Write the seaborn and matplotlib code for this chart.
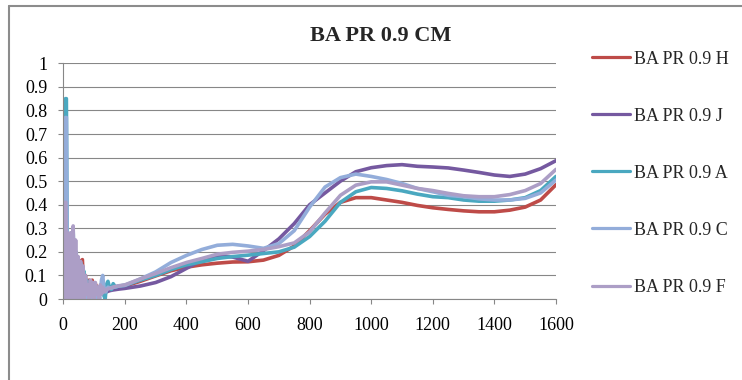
import numpy as np
import pandas as pd
import matplotlib
matplotlib.use("Agg")
import matplotlib.pyplot as plt
from matplotlib.lines import Line2D
from matplotlib.ticker import FuncFormatter, MultipleLocator
import seaborn as sns

# --- data ---
title = "BA PR 0.9 CM"
series_names = ["BA PR 0.9 H", "BA PR 0.9 J", "BA PR 0.9 A", "BA PR 0.9 C", "BA PR 0.9 F"]
series_colors = ["#BE4B48", "#7559A0", "#4AA8C0", "#93ADDA", "#AC9EC6"]

# smooth part of the curves (shared x)
x_smooth = [200, 250, 300, 350, 400, 450, 500, 550, 600, 650, 700, 750, 800, 850, 900,
            950, 1000, 1050, 1100, 1150, 1200, 1250, 1300, 1350, 1400, 1450, 1500, 1550, 1600]
h_smooth = [0.055, 0.075, 0.098, 0.12, 0.135, 0.145, 0.152, 0.157, 0.158, 0.165, 0.185, 0.225, 0.29, 0.36, 0.41,
            0.43, 0.43, 0.42, 0.41, 0.397, 0.387, 0.38, 0.374, 0.37, 0.37, 0.377, 0.39, 0.42, 0.485]
j_smooth = [0.045, 0.055, 0.07, 0.095, 0.13, 0.165, 0.185, 0.178, 0.16, 0.205, 0.255, 0.32, 0.4, 0.45, 0.5,
            0.54, 0.557, 0.566, 0.57, 0.563, 0.56, 0.556, 0.547, 0.537, 0.526, 0.52, 0.53, 0.553, 0.587]
a_smooth = [0.058, 0.08, 0.1, 0.125, 0.145, 0.158, 0.172, 0.18, 0.186, 0.193, 0.2, 0.22, 0.265, 0.33, 0.41,
            0.455, 0.473, 0.469, 0.459, 0.445, 0.434, 0.43, 0.42, 0.415, 0.415, 0.42, 0.43, 0.46, 0.52]
c_smooth = [0.058, 0.085, 0.115, 0.155, 0.185, 0.21, 0.228, 0.232, 0.225, 0.215, 0.235, 0.29, 0.39, 0.475, 0.515,
            0.53, 0.52, 0.507, 0.49, 0.469, 0.455, 0.44, 0.434, 0.425, 0.42, 0.42, 0.427, 0.45, 0.505]
f_smooth = [0.06, 0.085, 0.108, 0.133, 0.155, 0.172, 0.19, 0.198, 0.203, 0.21, 0.222, 0.238, 0.285, 0.365, 0.44,
            0.483, 0.497, 0.497, 0.483, 0.469, 0.46, 0.448, 0.438, 0.434, 0.434, 0.443, 0.46, 0.49, 0.55]

# noisy start of each curve (x < 200)
h_x_noisy = [0, 4, 8, 12, 16, 20, 26, 30, 36, 40, 46, 50, 56, 62, 66, 72, 76, 84, 88, 94, 100, 106, 112, 120, 130, 140, 150, 160, 180]
h_y_noisy = [0, 0.3, 0.35, 0, 0.25, 0, 0.28, 0, 0.25, 0, 0.18, 0, 0.16, 0.167, 0.05, 0.1, 0.0, 0.08, 0.0, 0.08, 0.03, 0.06, 0.02, 0.04, 0.03, 0.045, 0.04, 0.045, 0.05]
j_x_noisy = [0, 4, 8, 12, 16, 20, 26, 30, 36, 40, 46, 50, 58, 64, 72, 78, 86, 92, 100, 110, 120, 130, 140, 150, 160, 180]
j_y_noisy = [0, 0.3, 0.35, 0, 0.25, 0, 0.27, 0, 0.24, 0, 0.15, 0, 0.12, 0.02, 0.08, 0.0, 0.06, 0.0, 0.05, 0.02, 0.03, 0.025, 0.03, 0.035, 0.038, 0.042]
a_x_noisy = [0, 4, 7, 10, 13, 16, 20, 24, 28, 32, 36, 40, 44, 50, 54, 58, 62, 66, 70, 76, 80, 86, 92, 96, 100, 106, 112,
             118, 124, 130, 136, 140, 145, 150, 156, 162, 170, 180]
a_y_noisy = [0, 0.6, 0.85, 0.85, 0.1, 0.25, 0, 0.27, 0, 0.3, 0, 0.2, 0, 0.16, 0.02, 0.15, 0.0, 0.12, 0.02, 0.08, 0.0, 0.06, 0.0, 0.05, 0.0, 0.03, 0.0,
             0.03, 0.05, 0.02, 0.0, 0.06, 0.075, 0.05, 0.04, 0.065, 0.05, 0.055]
c_x_noisy = [0, 4, 7, 10, 13, 16, 20, 24, 28, 32, 36, 42, 46, 52, 56, 62, 66, 72, 78, 86, 92, 100, 106, 112, 118, 124, 128,
             132, 138, 145, 155, 165, 180]
c_y_noisy = [0, 0.5, 0.77, 0.77, 0.1, 0.26, 0, 0.28, 0, 0.29, 0, 0.2, 0, 0.15, 0.0, 0.1, 0.0, 0.08, 0.0, 0.06, 0.0, 0.05, 0.0, 0.04, 0.0, 0.08, 0.1,
             0.05, 0.03, 0.05, 0.045, 0.05, 0.055]
f_x_noisy = [0, 4, 8, 12, 16, 20, 24, 28, 32, 36, 40, 44, 48, 52, 56, 60, 64, 68, 72, 76, 80, 84, 88, 92, 96, 100, 104,
             108, 112, 116, 120, 124, 128, 132, 140, 150, 160, 175]
f_y_noisy = [0, 0.41, 0.41, 0.0, 0.28, 0.0, 0.28, 0.0, 0.31, 0.0, 0.25, 0.0, 0.18, 0.0, 0.16, 0.0, 0.14, 0.0, 0.1, 0.02, 0.06, 0.0, 0.08, 0.01, 0.07, 0.0, 0.07,
             0.02, 0.05, 0.0, 0.06, 0.02, 0.05, 0.03, 0.04, 0.045, 0.05, 0.055]

noisy_x = [h_x_noisy, j_x_noisy, a_x_noisy, c_x_noisy, f_x_noisy]
noisy_y = [h_y_noisy, j_y_noisy, a_y_noisy, c_y_noisy, f_y_noisy]
smooth_y = [h_smooth, j_smooth, a_smooth, c_smooth, f_smooth]

sns.set_style("white")
plt.rcParams["font.family"] = ["Liberation Serif", "DejaVu Serif"]

fig = plt.figure(figsize=(7.42, 3.80), dpi=100)
ax = fig.add_axes([63.3 / 742, 1 - 299 / 380, (556 - 63.3) / 742, (299 - 63.3) / 380])

grid_color = "#878787"
for name, color, nx, ny, sy in zip(series_names, series_colors, noisy_x, noisy_y, smooth_y):
    df = pd.DataFrame({"x": list(nx) + x_smooth, "y": list(ny) + sy})
    sns.lineplot(data=df, x="x", y="y", ax=ax, color=color, linewidth=2.6,
                 label=name, estimator=None, sort=False)

ax.set_xlim(0, 1600)
ax.set_ylim(0, 1)
ax.xaxis.set_major_locator(MultipleLocator(200))
ax.yaxis.set_major_locator(MultipleLocator(0.1))
ax.yaxis.set_major_formatter(FuncFormatter(lambda v, p: f"{v:g}"))
ax.set_xlabel("")
ax.set_ylabel("")
ax.grid(axis="y", color=grid_color, linewidth=0.8)
ax.grid(axis="x", visible=False)
ax.set_axisbelow(True)
for s in ["top", "right"]:
    ax.spines[s].set_visible(False)
for s in ["left", "bottom"]:
    ax.spines[s].set_color(grid_color)
    ax.spines[s].set_linewidth(0.8)
ax.tick_params(axis="both", direction="out", length=3.6, width=0.8, color=grid_color,
               labelsize=13, labelcolor="black")
ax.tick_params(axis="x", pad=9, bottom=True)
ax.tick_params(axis="y", pad=8, left=True)

fig.text(381 / 742, 1 - 36 / 380, title, ha="center", va="center",
         fontsize=16, fontweight="bold")

leg = ax.legend(loc="upper left", bbox_to_anchor=(592 / 742, 1 - 50.5 / 380),
                bbox_transform=fig.transFigure, frameon=False, fontsize=13,
                handlelength=2.1, handletextpad=0.2, labelspacing=2.22,
                borderpad=0, borderaxespad=0)
for line in leg.get_lines():
    line.set_linewidth(2.3)

# chart frame (top and left edges visible)
frame_color = "#8c8c8c"
fig.add_artist(Line2D([9 / 742, 1], [1 - 6 / 380, 1 - 6 / 380], transform=fig.transFigure,
                      color=frame_color, linewidth=1.5))
fig.add_artist(Line2D([9 / 742, 9 / 742], [0, 1 - 6 / 380], transform=fig.transFigure,
                      color=frame_color, linewidth=1.5))

fig.savefig("out.png", dpi=100)
